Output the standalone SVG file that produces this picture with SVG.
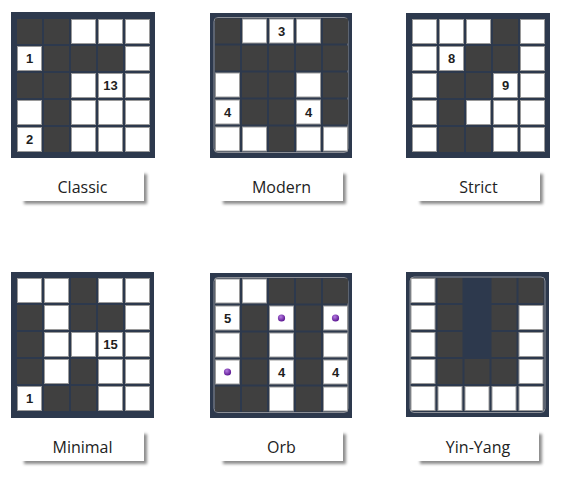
<svg xmlns="http://www.w3.org/2000/svg" width="563" height="479" viewBox="0 0 563 479">
<style>
.frame{fill:#2d394d}
.inner{fill:#2d394d;stroke:#8c8f96;stroke-width:1}
.d{fill:#404040}
.w{fill:#ffffff;stroke:#9a9a9a;stroke-width:1}
.num{font-family:"Liberation Sans",Arial,sans-serif;font-weight:bold;font-size:13px;fill:#1e1e1e;text-anchor:middle}
.box{fill:#ffffff;filter:url(#sh)}
.lbl{font-family:"Open Sans","Noto Sans",sans-serif;font-size:16px;fill:#222222;text-anchor:middle}
</style>
<defs>
<filter id="sh" x="-10%" y="-20%" width="125%" height="160%">
<feDropShadow dx="3" dy="3" stdDeviation="1.8" flood-color="#000" flood-opacity="0.45"/>
</filter>
<radialGradient id="orb" cx="40%" cy="35%" r="65%">
<stop offset="0" stop-color="#b47be0"/>
<stop offset="1" stop-color="#5a1490"/>
</radialGradient>
</defs>

<g id="classic">
<rect class="frame" x="11" y="12" width="144" height="146"/>
<g transform="translate(17,19)">
<rect class="d" x="0" y="0" width="25" height="25"/><rect class="d" x="27" y="0" width="25" height="25"/><rect class="w" x="54.5" y="0.5" width="24" height="24"/><rect class="w" x="81.5" y="0.5" width="24" height="24"/><rect class="w" x="108.5" y="0.5" width="24" height="24"/>
<rect class="w" x="0.5" y="27.5" width="24" height="24"/><rect class="d" x="27" y="27" width="25" height="25"/><rect class="d" x="54" y="27" width="25" height="25"/><rect class="d" x="81" y="27" width="25" height="25"/><rect class="w" x="108.5" y="27.5" width="24" height="24"/>
<rect class="d" x="0" y="54" width="25" height="25"/><rect class="d" x="27" y="54" width="25" height="25"/><rect class="w" x="54.5" y="54.5" width="24" height="24"/><rect class="w" x="81.5" y="54.5" width="24" height="24"/><rect class="w" x="108.5" y="54.5" width="24" height="24"/>
<rect class="w" x="0.5" y="81.5" width="24" height="24"/><rect class="d" x="27" y="81" width="25" height="25"/><rect class="w" x="54.5" y="81.5" width="24" height="24"/><rect class="w" x="81.5" y="81.5" width="24" height="24"/><rect class="w" x="108.5" y="81.5" width="24" height="24"/>
<rect class="w" x="0.5" y="108.5" width="24" height="24"/><rect class="d" x="27" y="108" width="25" height="25"/><rect class="w" x="54.5" y="108.5" width="24" height="24"/><rect class="w" x="81.5" y="108.5" width="24" height="24"/><rect class="w" x="108.5" y="108.5" width="24" height="24"/>
<text class="num" x="12.5" y="44">1</text><text class="num" x="93.5" y="71">13</text><text class="num" x="12.5" y="125">2</text>
</g>
<rect class="box" x="21" y="171" width="123" height="30"/>
<text class="lbl" x="82.5" y="193">Classic</text>
</g>

<g id="modern">
<rect class="frame" x="210" y="13" width="142" height="145"/>
<rect class="inner" x="214" y="17.5" width="134" height="135" rx="4"/>
<g transform="translate(215,18.5)">
<rect class="d" x="0" y="0" width="25" height="25"/><rect class="w" x="27.5" y="0.5" width="24" height="24"/><rect class="w" x="54.5" y="0.5" width="24" height="24"/><rect class="w" x="81.5" y="0.5" width="24" height="24"/><rect class="d" x="108" y="0" width="25" height="25"/>
<rect class="d" x="0" y="27" width="25" height="25"/><rect class="d" x="27" y="27" width="25" height="25"/><rect class="d" x="54" y="27" width="25" height="25"/><rect class="d" x="81" y="27" width="25" height="25"/><rect class="d" x="108" y="27" width="25" height="25"/>
<rect class="w" x="0.5" y="54.5" width="24" height="24"/><rect class="d" x="27" y="54" width="25" height="25"/><rect class="d" x="54" y="54" width="25" height="25"/><rect class="w" x="81.5" y="54.5" width="24" height="24"/><rect class="d" x="108" y="54" width="25" height="25"/>
<rect class="w" x="0.5" y="81.5" width="24" height="24"/><rect class="d" x="27" y="81" width="25" height="25"/><rect class="d" x="54" y="81" width="25" height="25"/><rect class="w" x="81.5" y="81.5" width="24" height="24"/><rect class="d" x="108" y="81" width="25" height="25"/>
<rect class="w" x="0.5" y="108.5" width="24" height="24"/><rect class="w" x="27.5" y="108.5" width="24" height="24"/><rect class="d" x="54" y="108" width="25" height="25"/><rect class="w" x="81.5" y="108.5" width="24" height="24"/><rect class="w" x="108.5" y="108.5" width="24" height="24"/>
<text class="num" x="66.5" y="17">3</text><text class="num" x="12.5" y="98">4</text><text class="num" x="93.5" y="98">4</text>
</g>
<rect class="box" x="220" y="171" width="123" height="30"/>
<text class="lbl" x="281.5" y="193">Modern</text>
</g>

<g id="strict">
<rect class="frame" x="406" y="13" width="144" height="145"/>
<g transform="translate(412,19)">
<rect class="w" x="0.5" y="0.5" width="24" height="24"/><rect class="w" x="27.5" y="0.5" width="24" height="24"/><rect class="w" x="54.5" y="0.5" width="24" height="24"/><rect class="d" x="81" y="0" width="25" height="25"/><rect class="w" x="108.5" y="0.5" width="24" height="24"/>
<rect class="w" x="0.5" y="27.5" width="24" height="24"/><rect class="w" x="27.5" y="27.5" width="24" height="24"/><rect class="d" x="54" y="27" width="25" height="25"/><rect class="d" x="81" y="27" width="25" height="25"/><rect class="w" x="108.5" y="27.5" width="24" height="24"/>
<rect class="w" x="0.5" y="54.5" width="24" height="24"/><rect class="d" x="27" y="54" width="25" height="25"/><rect class="d" x="54" y="54" width="25" height="25"/><rect class="w" x="81.5" y="54.5" width="24" height="24"/><rect class="w" x="108.5" y="54.5" width="24" height="24"/>
<rect class="w" x="0.5" y="81.5" width="24" height="24"/><rect class="d" x="27" y="81" width="25" height="25"/><rect class="w" x="54.5" y="81.5" width="24" height="24"/><rect class="w" x="81.5" y="81.5" width="24" height="24"/><rect class="w" x="108.5" y="81.5" width="24" height="24"/>
<rect class="w" x="0.5" y="108.5" width="24" height="24"/><rect class="d" x="27" y="108" width="25" height="25"/><rect class="d" x="54" y="108" width="25" height="25"/><rect class="w" x="81.5" y="108.5" width="24" height="24"/><rect class="w" x="108.5" y="108.5" width="24" height="24"/>
<text class="num" x="39.5" y="44">8</text><text class="num" x="93.5" y="71">9</text>
</g>
<rect class="box" x="417" y="171" width="123" height="30"/>
<text class="lbl" x="478.5" y="193">Strict</text>
</g>

<g id="minimal">
<rect class="frame" x="11" y="272" width="143" height="146"/>
<g transform="translate(17,278)">
<rect class="w" x="0.5" y="0.5" width="24" height="24"/><rect class="w" x="27.5" y="0.5" width="24" height="24"/><rect class="d" x="54" y="0" width="25" height="25"/><rect class="w" x="81.5" y="0.5" width="24" height="24"/><rect class="w" x="108.5" y="0.5" width="24" height="24"/>
<rect class="d" x="0" y="27" width="25" height="25"/><rect class="w" x="27.5" y="27.5" width="24" height="24"/><rect class="d" x="54" y="27" width="25" height="25"/><rect class="d" x="81" y="27" width="25" height="25"/><rect class="w" x="108.5" y="27.5" width="24" height="24"/>
<rect class="d" x="0" y="54" width="25" height="25"/><rect class="w" x="27.5" y="54.5" width="24" height="24"/><rect class="w" x="54.5" y="54.5" width="24" height="24"/><rect class="w" x="81.5" y="54.5" width="24" height="24"/><rect class="w" x="108.5" y="54.5" width="24" height="24"/>
<rect class="d" x="0" y="81" width="25" height="25"/><rect class="w" x="27.5" y="81.5" width="24" height="24"/><rect class="d" x="54" y="81" width="25" height="25"/><rect class="w" x="81.5" y="81.5" width="24" height="24"/><rect class="w" x="108.5" y="81.5" width="24" height="24"/>
<rect class="w" x="0.5" y="108.5" width="24" height="24"/><rect class="d" x="27" y="108" width="25" height="25"/><rect class="d" x="54" y="108" width="25" height="25"/><rect class="w" x="81.5" y="108.5" width="24" height="24"/><rect class="w" x="108.5" y="108.5" width="24" height="24"/>
<text class="num" x="93.5" y="71">15</text><text class="num" x="12.5" y="125">1</text>
</g>
<rect class="box" x="21" y="431" width="123" height="30"/>
<text class="lbl" x="82.5" y="453">Minimal</text>
</g>

<g id="orb">
<rect class="frame" x="210" y="273" width="142" height="145"/>
<rect class="inner" x="214" y="277.5" width="134" height="135" rx="4"/>
<g transform="translate(215,278.5)">
<rect class="w" x="0.5" y="0.5" width="24" height="24"/><rect class="w" x="27.5" y="0.5" width="24" height="24"/><rect class="d" x="54" y="0" width="25" height="25"/><rect class="d" x="81" y="0" width="25" height="25"/><rect class="d" x="108" y="0" width="25" height="25"/>
<rect class="w" x="0.5" y="27.5" width="24" height="24"/><rect class="d" x="27" y="27" width="25" height="25"/><rect class="w" x="54.5" y="27.5" width="24" height="24"/><rect class="d" x="81" y="27" width="25" height="25"/><rect class="w" x="108.5" y="27.5" width="24" height="24"/>
<rect class="w" x="0.5" y="54.5" width="24" height="24"/><rect class="d" x="27" y="54" width="25" height="25"/><rect class="w" x="54.5" y="54.5" width="24" height="24"/><rect class="d" x="81" y="54" width="25" height="25"/><rect class="w" x="108.5" y="54.5" width="24" height="24"/>
<rect class="w" x="0.5" y="81.5" width="24" height="24"/><rect class="d" x="27" y="81" width="25" height="25"/><rect class="w" x="54.5" y="81.5" width="24" height="24"/><rect class="d" x="81" y="81" width="25" height="25"/><rect class="w" x="108.5" y="81.5" width="24" height="24"/>
<rect class="d" x="0" y="108" width="25" height="25"/><rect class="d" x="27" y="108" width="25" height="25"/><rect class="w" x="54.5" y="108.5" width="24" height="24"/><rect class="d" x="81" y="108" width="25" height="25"/><rect class="w" x="108.5" y="108.5" width="24" height="24"/>
<text class="num" x="12.5" y="44">5</text><text class="num" x="66.5" y="98">4</text><text class="num" x="120.5" y="98">4</text>
<circle cx="66.5" cy="39.5" r="3.6" fill="url(#orb)"/><circle cx="120.5" cy="39.5" r="3.6" fill="url(#orb)"/><circle cx="12.5" cy="93.5" r="3.6" fill="url(#orb)"/>
</g>
<rect class="box" x="220" y="431" width="123" height="30"/>
<text class="lbl" x="281.5" y="453">Orb</text>
</g>

<g id="yin-yang">
<rect class="frame" x="406" y="272" width="143" height="145"/>
<rect class="inner" x="410" y="277" width="135" height="135.5" rx="4"/>
<g transform="translate(410.5,278)">
<rect class="w" x="0.5" y="0.5" width="24" height="24"/><rect class="d" x="27" y="0" width="25" height="25"/><rect class="d" x="81" y="0" width="25" height="25"/><rect class="d" x="108" y="0" width="25" height="25"/>
<rect class="w" x="0.5" y="27.5" width="24" height="24"/><rect class="d" x="27" y="27" width="25" height="25"/><rect class="d" x="81" y="27" width="25" height="25"/><rect class="w" x="108.5" y="27.5" width="24" height="24"/>
<rect class="w" x="0.5" y="54.5" width="24" height="24"/><rect class="d" x="27" y="54" width="25" height="25"/><rect class="d" x="81" y="54" width="25" height="25"/><rect class="w" x="108.5" y="54.5" width="24" height="24"/>
<rect class="w" x="0.5" y="81.5" width="24" height="24"/><rect class="d" x="27" y="81" width="25" height="25"/><rect class="d" x="54" y="81" width="25" height="25"/><rect class="d" x="81" y="81" width="25" height="25"/><rect class="w" x="108.5" y="81.5" width="24" height="24"/>
<rect class="w" x="0.5" y="108.5" width="24" height="24"/><rect class="w" x="27.5" y="108.5" width="24" height="24"/><rect class="w" x="54.5" y="108.5" width="24" height="24"/><rect class="w" x="81.5" y="108.5" width="24" height="24"/><rect class="w" x="108.5" y="108.5" width="24" height="24"/>
</g>
<rect class="box" x="417" y="431" width="122" height="30"/>
<text class="lbl" x="478" y="453">Yin-Yang</text>
</g>
</svg>
